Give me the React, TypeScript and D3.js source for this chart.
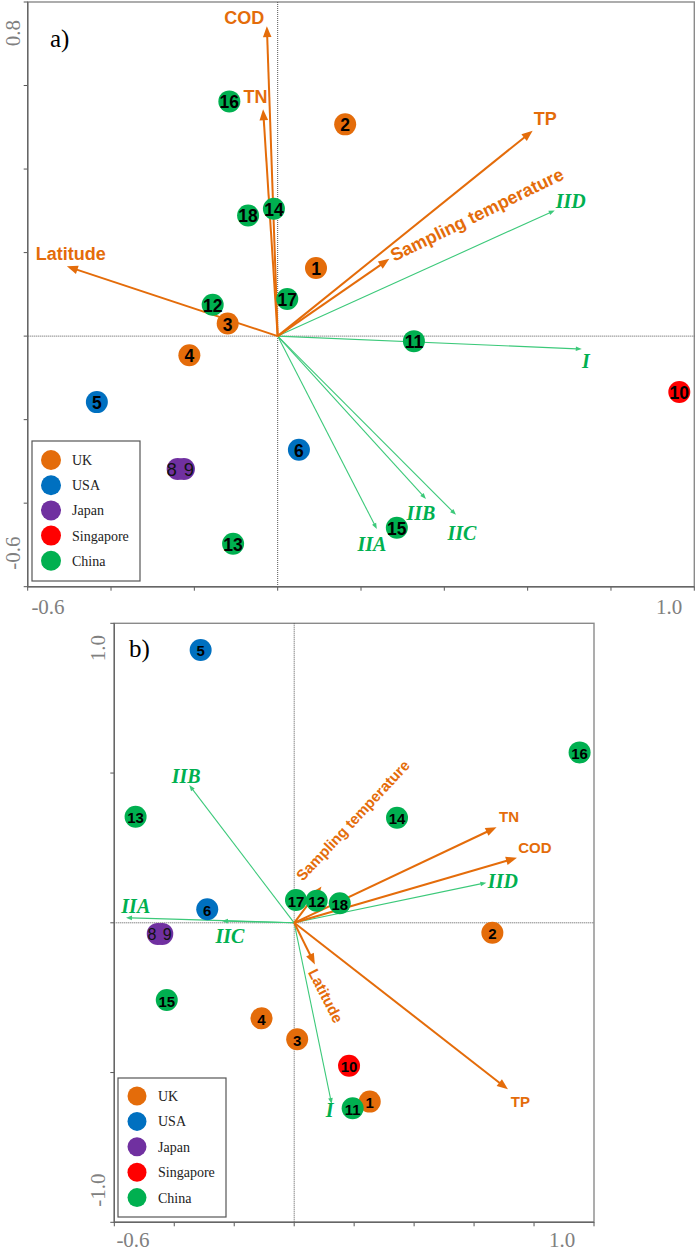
import React from "react";
import * as d3 from "d3";

// ---------- data ----------
const sampleIds = [1, 2, 3, 4, 5, 6, 8, 9, 10, 11, 12, 13, 14, 15, 16, 17, 18];
const sampleCountry = [
  "UK", "UK", "UK", "UK", "USA", "USA", "Japan", "Japan", "Singapore",
  "China", "China", "China", "China", "China", "China", "China", "China",
];
const countries = ["UK", "USA", "Japan", "Singapore", "China"];
const countryColors = ["#E46C0A", "#0070C0", "#7030A0", "#FF0000", "#00B050"];

const sampleXA = [0.092, 0.162, -0.12, -0.212, -0.434, 0.051, -0.24, -0.225, 0.964, 0.327, -0.156, -0.107, -0.009, 0.286, -0.116, 0.023, -0.071];
const sampleYA = [0.163, 0.507, 0.03, -0.046, -0.158, -0.272, -0.318, -0.318, -0.134, -0.012, 0.075, -0.497, 0.305, -0.459, 0.562, 0.089, 0.289];
const sampleXB = [0.252, 0.661, 0.01, -0.109, -0.312, -0.29, -0.455, -0.44, 0.183, 0.195, 0.075, -0.529, 0.343, -0.425, 0.952, 0.006, 0.152];
const sampleYB = [-0.597, -0.033, -0.389, -0.319, 0.911, 0.045, -0.037, -0.037, -0.477, -0.619, 0.074, 0.354, 0.351, -0.258, 0.569, 0.076, 0.065];

const envNames = ["COD", "TN", "Latitude", "TP", "Sampling temperature"];
const envXA = [-0.026, -0.035, -0.506, 0.612, 0.268];
const envYA = [0.742, 0.543, 0.167, 0.492, 0.185];
const envXB = [0.743, 0.675, 0.069, 0.713, 0.091];
const envYB = [0.217, 0.319, -0.139, -0.556, 0.121];

const bacNames = ["I", "IIA", "IIB", "IIC", "IID"];
const bacXA = [0.73, 0.238, 0.356, 0.428, 0.665];
const bacYA = [-0.031, -0.462, -0.39, -0.428, 0.301];
const bacXB = [0.125, -0.561, -0.35, -0.241, 0.641];
const bacYB = [-0.605, 0.017, 0.46, 0.006, 0.134];

const xTicksA = [-0.6, -0.4, -0.2, 0, 0.2, 0.4, 0.6, 0.8, 1.0];
const yTicksA = [-0.6, -0.4, -0.2, 0, 0.2, 0.4, 0.6, 0.8];
const xTicksB = [-0.6, -0.4, -0.2, 0, 0.2, 0.4, 0.6, 0.8, 1.0];
const yTicksB = [-1.0, -0.5, 0, 0.5, 1.0];
const xTickLabelsA = ["-0.6", "1.0"];
const yTickLabelsA = ["0.8", "-0.6"];
const xTickLabelsB = ["-0.6", "1.0"];
const yTickLabelsB = ["1.0", "-1.0"];

// ---------- styles ----------
const ORANGE = "#E46C0A";
const GREEN_LINE = "#3CC97A";
const GREEN_TEXT = "#00B050";
const SANS = "'Liberation Sans', Arial, sans-serif";
const SERIF = "'Liberation Serif', 'Times New Roman', serif";
const GRAY = "#808080";

type Off = { dx: number; dy: number; rot?: number };

type PanelCfg = {
  left: number; right: number; top: number; bottom: number;
  xDomain: [number, number]; yDomain: [number, number];
  xTicks: number[]; yTicks: number[];
  xLabels: string[]; yLabels: string[];
  xLabelPos: { x: number; y: number }[]; yLabelPos: { x: number; y: number }[];
  letter: string; letterPos: { x: number; y: number };
  sx: number[]; sy: number[];
  ex: number[]; ey: number[];
  bx: number[]; by: number[];
  envOff: Off[]; bacOff: Off[];
  envFont: number; ptFont: number;
  legend: { x: number; y: number; w: number; h: number; cx: number; cy0: number; step: number; r: number; tx: number };
};

function arrowParts(ox: number, oy: number, tx: number, ty: number, hl: number, hw: number) {
  const dx = tx - ox, dy = ty - oy;
  const len = Math.sqrt(dx * dx + dy * dy);
  const ux = dx / len, uy = dy / len;
  const bx = tx - ux * hl, by = ty - uy * hl;
  const nx = -uy, ny = ux;
  const head = `M${tx},${ty}L${bx + nx * hw},${by + ny * hw}L${bx - nx * hw},${by - ny * hw}Z`;
  return { bx: tx - ux * hl * 0.8, by: ty - uy * hl * 0.8, head };
}

function Panel({ c }: { c: PanelCfg }) {
  const xs = d3.scaleLinear().domain(c.xDomain).range([c.left, c.right]);
  const ys = d3.scaleLinear().domain(c.yDomain).range([c.bottom, c.top]);
  const ox = xs(0), oy = ys(0);
  const colorOf = d3.scaleOrdinal<string, string>().domain(countries).range(countryColors);

  const idx89 = [sampleIds.indexOf(8), sampleIds.indexOf(9)];
  const m89x = (xs(c.sx[idx89[0]]) + xs(c.sx[idx89[1]])) / 2;
  const m89y = (ys(c.sy[idx89[0]]) + ys(c.sy[idx89[1]])) / 2;

  return (
    <g>
      {/* frame */}
      <rect x={c.left} y={c.top} width={c.right - c.left} height={c.bottom - c.top}
        fill="none" stroke="#8a8a8a" strokeWidth={1.4} />
      {/* zero lines */}
      <line x1={c.left} x2={c.right} y1={oy} y2={oy} stroke="#555" strokeWidth={1} strokeDasharray="1 1" />
      <line x1={ox} x2={ox} y1={c.top} y2={c.bottom} stroke="#555" strokeWidth={1} strokeDasharray="1 1" />
      {/* ticks */}
      {c.xTicks.map((t, i) => (
        <line key={"xt" + i} x1={xs(t)} x2={xs(t)} y1={c.bottom} y2={c.bottom + 4} stroke="#555" strokeWidth={1} />
      ))}
      {c.yTicks.map((t, i) => (
        <line key={"yt" + i} x1={c.left - 4} x2={c.left} y1={ys(t)} y2={ys(t)} stroke="#555" strokeWidth={1} />
      ))}
      <line x1={c.left} x2={c.right} y1={c.bottom} y2={c.bottom} stroke="#666" strokeWidth={1.4} />
      <line x1={c.left} x2={c.left} y1={c.top} y2={c.bottom} stroke="#666" strokeWidth={1.4} />
      {c.xLabels.map((l, i) => (
        <text key={"xl" + i} x={c.xLabelPos[i].x} y={c.xLabelPos[i].y} textAnchor="middle"
          fontFamily={SERIF} fontSize={21} fill={GRAY}>{l}</text>
      ))}
      {c.yLabels.map((l, i) => (
        <text key={"yl" + i} transform={`translate(${c.yLabelPos[i].x},${c.yLabelPos[i].y}) rotate(-90)`}
          textAnchor="middle" fontFamily={SERIF} fontSize={21} fill={GRAY}>{l}</text>
      ))}
      <text x={c.letterPos.x} y={c.letterPos.y} fontFamily={SERIF} fontSize={25} fill="#000">{c.letter}</text>

      {/* bacterial arrows */}
      {bacNames.map((n, i) => {
        const tx = xs(c.bx[i]), ty = ys(c.by[i]);
        const a = arrowParts(ox, oy, tx, ty, 6, 2.3);
        return (
          <g key={"b" + n}>
            <line x1={ox} y1={oy} x2={a.bx} y2={a.by} stroke={GREEN_LINE} strokeWidth={1.1} />
            <path d={a.head} fill={GREEN_LINE} />
          </g>
        );
      })}
      {/* environmental arrows */}
      {envNames.map((n, i) => {
        const tx = xs(c.ex[i]), ty = ys(c.ey[i]);
        const a = arrowParts(ox, oy, tx, ty, 11, 4.3);
        return (
          <g key={"e" + n}>
            <line x1={ox} y1={oy} x2={a.bx} y2={a.by} stroke={ORANGE} strokeWidth={2} />
            <path d={a.head} fill={ORANGE} />
          </g>
        );
      })}

      {/* samples */}
      {sampleIds.map((id, i) => (
        <circle key={"c" + id} cx={xs(c.sx[i])} cy={ys(c.sy[i])} r={11}
          fill={colorOf(sampleCountry[i])} />
      ))}
      {sampleIds.map((id, i) =>
        id === 8 || id === 9 ? null : (
          <text key={"t" + id} x={xs(c.sx[i])} y={ys(c.sy[i]) + 1} textAnchor="middle"
            dominantBaseline="central" fontFamily={SANS} fontWeight="bold" fontSize={c.ptFont}
            fill="#000">{id}</text>
        )
      )}
      <text x={m89x} y={m89y + 1} textAnchor="middle" dominantBaseline="central"
        fontFamily={SANS} fontSize={c.ptFont + 1} letterSpacing={1} fill="#111">8 9</text>

      {/* arrow labels */}
      {envNames.map((n, i) => {
        const tx = xs(c.ex[i]), ty = ys(c.ey[i]);
        const o = c.envOff[i];
        if (o.rot !== undefined) {
          return (
            <text key={"el" + n} transform={`translate(${tx + o.dx},${ty + o.dy}) rotate(${o.rot})`}
              textAnchor="start" fontFamily={SANS} fontWeight="bold" fontSize={c.envFont} fill={ORANGE}>{n}</text>
          );
        }
        return (
          <text key={"el" + n} x={tx + o.dx} y={ty + o.dy} textAnchor="middle"
            fontFamily={SANS} fontWeight="bold" fontSize={c.envFont} fill={ORANGE}>{n}</text>
        );
      })}
      {bacNames.map((n, i) => {
        const tx = xs(c.bx[i]), ty = ys(c.by[i]);
        const o = c.bacOff[i];
        return (
          <text key={"bl" + n} x={tx + o.dx} y={ty + o.dy} textAnchor="middle"
            fontFamily={SERIF} fontStyle="italic" fontWeight="bold" fontSize={20} fill={GREEN_TEXT}>{n}</text>
        );
      })}

      {/* legend */}
      <rect x={c.legend.x} y={c.legend.y} width={c.legend.w} height={c.legend.h}
        fill="#fff" stroke="#555" strokeWidth={1.2} />
      {countries.map((k, i) => (
        <g key={"lg" + k}>
          <circle cx={c.legend.cx} cy={c.legend.cy0 + i * c.legend.step} r={c.legend.r} fill={countryColors[i]} />
          <text x={c.legend.tx} y={c.legend.cy0 + i * c.legend.step + 5} fontFamily={SERIF}
            fontSize={14} fill="#222">{k}</text>
        </g>
      ))}
    </g>
  );
}

const panelA: PanelCfg = {
  left: 27.7, right: 694.3, top: 2, bottom: 586.7,
  xDomain: [-0.6, 1.0], yDomain: [-0.6, 0.8],
  xTicks: xTicksA, yTicks: yTicksA,
  xLabels: xTickLabelsA, yLabels: yTickLabelsA,
  xLabelPos: [{ x: 48, y: 614 }, { x: 669, y: 614 }],
  yLabelPos: [{ x: 19.5, y: 33 }, { x: 19.5, y: 553 }],
  letter: "a)", letterPos: { x: 50, y: 47 },
  sx: sampleXA, sy: sampleYA, ex: envXA, ey: envYA, bx: bacXA, by: bacYA,
  envOff: [
    { dx: -22.7, dy: -2 },
    { dx: -7.5, dy: -6.7 },
    { dx: 4, dy: -6 },
    { dx: 12.5, dy: -5.3 },
    { dx: 5, dy: 3, rot: -26 },
  ],
  bacOff: [
    { dx: 4, dy: 19 },
    { dx: -5, dy: 21.7 },
    { dx: -5, dy: 20.7 },
    { dx: 6, dy: 25 },
    { dx: 16, dy: -2.4 },
  ],
  envFont: 18, ptFont: 17.5,
  legend: { x: 32, y: 441, w: 108, h: 140, cx: 51, cy0: 460, step: 25.2, r: 10, tx: 72 },
};

const panelB: PanelCfg = {
  left: 114.3, right: 594, top: 623.3, bottom: 1222.3,
  xDomain: [-0.6, 1.0], yDomain: [-1.0, 1.0],
  xTicks: xTicksB, yTicks: yTicksB,
  xLabels: xTickLabelsB, yLabels: yTickLabelsB,
  xLabelPos: [{ x: 133, y: 1247 }, { x: 562, y: 1247 }],
  yLabelPos: [{ x: 105, y: 648 }, { x: 105, y: 1190 }],
  letter: "b)", letterPos: { x: 129, y: 657 },
  sx: sampleXB, sy: sampleYB, ex: envXB, ey: envYB, bx: bacXB, by: bacYB,
  envOff: [
    { dx: 18, dy: -5 },
    { dx: 12.5, dy: -5 },
    { dx: -7, dy: 7.7, rot: 63 },
    { dx: 12.4, dy: 17.4 },
    { dx: -18.7, dy: -4.7, rot: -47 },
  ],
  bacOff: [
    { dx: -2, dy: 13.5 },
    { dx: 9.8, dy: -5 },
    { dx: -3, dy: -2.3 },
    { dx: 8, dy: 22 },
    { dx: 16.5, dy: 5 },
  ],
  envFont: 15, ptFont: 15,
  legend: { x: 118, y: 1078, w: 108, h: 139, cx: 137, cy0: 1096, step: 25.4, r: 9.5, tx: 158 },
};

export default function App() {
  return (
    <div style={{ position: "absolute", left: 0, top: 0 }}>
      <svg width={697} height={1252} style={{ display: "block", background: "#fff" }}>
        <Panel c={panelA} />
        <Panel c={panelB} />
      </svg>
    </div>
  );
}
